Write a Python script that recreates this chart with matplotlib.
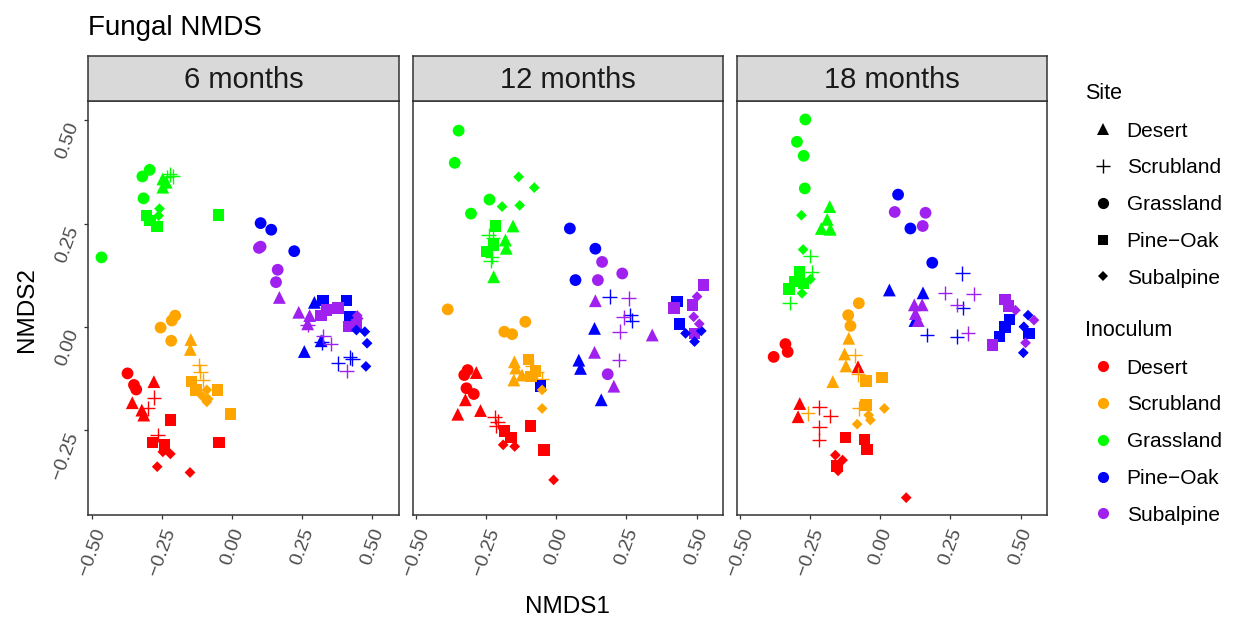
import matplotlib
matplotlib.use('Agg')
import matplotlib.pyplot as plt
from matplotlib.lines import Line2D
import pandas as pd

plt.rcParams['font.family'] = ['Liberation Sans', 'DejaVu Sans']

# Códigos: De=Desert, Sc=Scrubland, Gr=Grassland, PO=Pine-Oak, Su=Subalpine
# (inoculum, site, NMDS1, NMDS2)
six_months = [
    ("Gr", "Gr", -0.294, 0.380), ("Gr", "Gr", -0.320, 0.364), ("Gr", "Gr", -0.316, 0.311), ("Gr", "Gr", -0.466, 0.168),
    ("Gr", "De", -0.247, 0.358), ("Gr", "De", -0.247, 0.338), ("Gr", "De", -0.235, 0.350),
    ("Gr", "Sc", -0.223, 0.369), ("Gr", "Sc", -0.212, 0.364), ("Gr", "Sc", -0.232, 0.362),
    ("Gr", "Su", -0.259, 0.286), ("Gr", "Su", -0.262, 0.269),
    ("Gr", "PO", -0.306, 0.269), ("Gr", "PO", -0.292, 0.257), ("Gr", "PO", -0.267, 0.243), ("Gr", "PO", -0.048, 0.271),
    ("PO", "Gr", 0.102, 0.251), ("PO", "Gr", 0.140, 0.235), ("PO", "Gr", 0.222, 0.183),
    ("PO", "De", 0.294, 0.059), ("PO", "De", 0.318, -0.034), ("PO", "De", 0.258, -0.060),
    ("PO", "PO", 0.324, 0.063), ("PO", "PO", 0.409, 0.063), ("PO", "PO", 0.421, 0.024),
    ("PO", "Su", 0.444, -0.008), ("PO", "Su", 0.474, -0.012), ("PO", "Su", 0.482, -0.040), ("PO", "Su", 0.478, -0.096),
    ("PO", "Sc", 0.320, -0.038), ("PO", "Sc", 0.379, -0.089), ("PO", "Sc", 0.421, -0.074), ("PO", "Sc", 0.430, -0.078),
    ("Su", "Gr", 0.102, 0.194), ("Su", "Gr", 0.096, 0.191), ("Su", "Gr", 0.163, 0.138), ("Su", "Gr", 0.157, 0.108),
    ("Su", "De", 0.169, 0.071), ("Su", "De", 0.238, 0.035), ("Su", "De", 0.277, 0.027), ("Su", "De", 0.270, 0.007),
    ("Su", "PO", 0.338, 0.041), ("Su", "PO", 0.379, 0.045), ("Su", "PO", 0.317, 0.027), ("Su", "PO", 0.415, 0.000),
    ("Su", "PO", 0.444, 0.006),
    ("Su", "Su", 0.447, 0.027), ("Su", "Su", 0.450, 0.020),
    ("Su", "Sc", 0.270, 0.005), ("Su", "Sc", 0.326, -0.022), ("Su", "Sc", 0.352, -0.042), ("Su", "Sc", 0.409, -0.107),
    ("Sc", "Gr", -0.255, -0.002), ("Sc", "Gr", -0.215, 0.015), ("Sc", "Gr", -0.203, 0.027), ("Sc", "Gr", -0.217, -0.034),
    ("Sc", "De", -0.147, -0.031), ("Sc", "De", -0.149, -0.055),
    ("Sc", "Sc", -0.117, -0.093), ("Sc", "Sc", -0.113, -0.109), ("Sc", "Sc", -0.105, -0.129),
    ("Sc", "PO", -0.144, -0.133), ("Sc", "PO", -0.129, -0.153), ("Sc", "PO", -0.052, -0.153), ("Sc", "PO", -0.005, -0.211),
    ("Sc", "Su", -0.090, -0.153), ("Sc", "Su", -0.105, -0.169), ("Sc", "Su", -0.090, -0.182), ("Sc", "Su", -0.085, -0.175),
    ("De", "Gr", -0.373, -0.113), ("De", "Gr", -0.350, -0.141), ("De", "Gr", -0.342, -0.152),
    ("De", "De", -0.279, -0.133), ("De", "De", -0.356, -0.184), ("De", "De", -0.322, -0.202), ("De", "De", -0.315, -0.214),
    ("De", "Sc", -0.279, -0.172), ("De", "Sc", -0.300, -0.198), ("De", "Sc", -0.265, -0.262),
    ("De", "PO", -0.220, -0.226), ("De", "PO", -0.283, -0.280), ("De", "PO", -0.241, -0.286), ("De", "PO", -0.046, -0.280),
    ("De", "Su", -0.247, -0.303), ("De", "Su", -0.220, -0.308), ("De", "Su", -0.267, -0.339), ("De", "Su", -0.150, -0.353),
]

twelve_months = [
    ("Gr", "Gr", -0.349, 0.475), ("Gr", "Gr", -0.363, 0.397), ("Gr", "Gr", -0.239, 0.308), ("Gr", "Gr", -0.305, 0.274),
    ("Gr", "Su", -0.135, 0.363), ("Gr", "Su", -0.079, 0.337), ("Gr", "Su", -0.194, 0.291), ("Gr", "Su", -0.131, 0.294),
    ("Gr", "PO", -0.217, 0.244), ("Gr", "PO", -0.224, 0.198), ("Gr", "PO", -0.250, 0.182),
    ("Gr", "De", -0.155, 0.244), ("Gr", "De", -0.182, 0.210), ("Gr", "De", -0.179, 0.190), ("Gr", "De", -0.224, 0.121),
    ("Gr", "Sc", -0.242, 0.222), ("Gr", "Sc", -0.226, 0.215), ("Gr", "Sc", -0.230, 0.170), ("Gr", "Sc", -0.235, 0.160),
    ("PO", "Gr", 0.048, 0.238), ("PO", "Gr", 0.139, 0.189), ("PO", "Gr", 0.068, 0.113),
    ("PO", "Sc", 0.190, 0.073), ("PO", "Sc", 0.264, 0.028), ("PO", "Sc", 0.270, 0.015),
    ("PO", "PO", 0.431, 0.061), ("PO", "PO", 0.440, 0.007), ("PO", "PO", -0.057, -0.144),
    ("PO", "De", 0.136, -0.004), ("PO", "De", 0.080, -0.081), ("PO", "De", 0.086, -0.101), ("PO", "De", 0.160, -0.177),
    ("PO", "Su", 0.461, -0.016), ("PO", "Su", 0.517, -0.010), ("PO", "Su", 0.493, -0.036),
    ("Su", "Gr", 0.163, 0.157), ("Su", "Gr", 0.235, 0.129), ("Su", "Gr", 0.148, 0.113), ("Su", "Gr", 0.183, -0.115),
    ("Su", "De", 0.139, 0.063), ("Su", "De", 0.136, -0.062), ("Su", "De", 0.205, -0.144), ("Su", "De", 0.342, -0.020),
    ("Su", "Sc", 0.258, 0.069), ("Su", "Sc", 0.240, 0.023), ("Su", "Sc", 0.226, -0.012), ("Su", "Sc", 0.223, -0.081),
    ("Su", "PO", 0.524, 0.101), ("Su", "PO", 0.485, 0.053), ("Su", "PO", 0.419, 0.045), ("Su", "PO", 0.493, -0.016),
    ("Su", "Su", 0.502, 0.073), ("Su", "Su", 0.490, 0.024), ("Su", "Su", 0.510, 0.007),
    ("Sc", "Gr", -0.388, 0.042), ("Sc", "Gr", -0.111, 0.012), ("Sc", "Gr", -0.186, -0.012), ("Sc", "Gr", -0.158, -0.018),
    ("Sc", "De", -0.150, -0.085), ("Sc", "De", -0.152, -0.129), ("Sc", "De", -0.123, -0.117), ("Sc", "De", -0.145, -0.100),
    ("Sc", "PO", -0.099, -0.079), ("Sc", "PO", -0.075, -0.107), ("Sc", "PO", -0.090, -0.121),
    ("Sc", "Sc", -0.070, -0.110), ("Sc", "Sc", -0.051, -0.127), ("Sc", "Sc", -0.085, -0.095),
    ("Sc", "Su", -0.051, -0.153), ("Sc", "Su", -0.051, -0.198),
    ("De", "Gr", -0.317, -0.105), ("De", "Gr", -0.329, -0.117), ("De", "Gr", -0.321, -0.149), ("De", "Gr", -0.295, -0.163),
    ("De", "De", -0.286, -0.111), ("De", "De", -0.325, -0.177), ("De", "De", -0.352, -0.212), ("De", "De", -0.271, -0.203),
    ("De", "Sc", -0.221, -0.219), ("De", "Sc", -0.210, -0.230), ("De", "Sc", -0.215, -0.240),
    ("De", "PO", -0.186, -0.252), ("De", "PO", -0.162, -0.268), ("De", "PO", -0.093, -0.240), ("De", "PO", -0.045, -0.299),
    ("De", "Su", -0.190, -0.286), ("De", "Su", -0.149, -0.290), ("De", "Su", -0.010, -0.371),
]

eighteen_months = [
    ("Gr", "Gr", -0.268, 0.502), ("Gr", "Gr", -0.298, 0.448), ("Gr", "Gr", -0.274, 0.414), ("Gr", "Gr", -0.270, 0.335),
    ("Gr", "De", -0.181, 0.291), ("Gr", "De", -0.190, 0.260), ("Gr", "De", -0.211, 0.238), ("Gr", "De", -0.179, 0.236),
    ("Gr", "Su", -0.282, 0.270), ("Gr", "Su", -0.276, 0.187), ("Gr", "Su", -0.250, 0.115), ("Gr", "Su", -0.280, 0.081),
    ("Gr", "Sc", -0.250, 0.171), ("Gr", "Sc", -0.244, 0.133), ("Gr", "Sc", -0.324, 0.057),
    ("Gr", "PO", -0.288, 0.133), ("Gr", "PO", -0.306, 0.109), ("Gr", "PO", -0.274, 0.105), ("Gr", "PO", -0.327, 0.091),
    ("PO", "Gr", 0.063, 0.320), ("PO", "Gr", 0.107, 0.238), ("PO", "Gr", 0.185, 0.155),
    ("PO", "De", 0.032, 0.089), ("PO", "De", 0.152, 0.082), ("PO", "De", 0.123, 0.015),
    ("PO", "Sc", 0.292, 0.129), ("PO", "Sc", 0.167, -0.020), ("PO", "Sc", 0.274, -0.024), ("PO", "Sc", 0.295, 0.045),
    ("PO", "PO", 0.461, 0.018), ("PO", "PO", 0.444, -0.001), ("PO", "PO", 0.426, -0.024), ("PO", "PO", 0.530, -0.016),
    ("PO", "Su", 0.527, 0.028), ("PO", "Su", 0.512, 0.000), ("PO", "Su", 0.510, -0.063),
    ("Su", "Gr", 0.051, 0.278), ("Su", "Gr", 0.161, 0.276), ("Su", "Gr", 0.151, 0.244),
    ("Su", "De", 0.121, 0.053), ("Su", "De", 0.149, 0.053), ("Su", "De", 0.125, 0.032), ("Su", "De", 0.135, 0.015),
    ("Su", "Sc", 0.230, 0.082), ("Su", "Sc", 0.333, 0.079), ("Su", "Sc", 0.313, -0.016), ("Su", "Sc", 0.274, 0.053),
    ("Su", "PO", 0.444, 0.066), ("Su", "PO", 0.458, 0.050), ("Su", "PO", 0.401, -0.044),
    ("Su", "Su", 0.482, 0.040), ("Su", "Su", 0.548, 0.016), ("Su", "Su", 0.518, -0.039),
    ("Sc", "Gr", -0.077, 0.057), ("Sc", "Gr", -0.115, 0.028), ("Sc", "Gr", -0.107, 0.002),
    ("Sc", "De", -0.113, -0.028), ("Sc", "De", -0.128, -0.066), ("Sc", "De", -0.123, -0.095), ("Sc", "De", -0.170, -0.133),
    ("Sc", "Sc", -0.092, -0.069), ("Sc", "Sc", -0.080, -0.115), ("Sc", "Sc", -0.258, -0.210), ("Sc", "Sc", -0.075, -0.198),
    ("Sc", "PO", -0.051, -0.131), ("Sc", "PO", 0.006, -0.123), ("Sc", "PO", -0.051, -0.190),
    ("Sc", "Su", 0.014, -0.198), ("Sc", "Su", -0.042, -0.214), ("Sc", "Su", -0.036, -0.226), ("Sc", "Su", -0.083, -0.236),
    ("De", "Gr", -0.339, -0.042), ("De", "Gr", -0.331, -0.061), ("De", "Gr", -0.381, -0.073),
    ("De", "De", -0.080, -0.097), ("De", "De", -0.288, -0.186), ("De", "De", -0.294, -0.218),
    ("De", "Sc", -0.218, -0.195), ("De", "Sc", -0.179, -0.216), ("De", "Sc", -0.218, -0.244), ("De", "Sc", -0.220, -0.274),
    ("De", "PO", -0.125, -0.268), ("De", "PO", -0.056, -0.273), ("De", "PO", -0.048, -0.297), ("De", "PO", -0.155, -0.337),
    ("De", "Su", -0.161, -0.311), ("De", "Su", -0.135, -0.323), ("De", "Su", -0.151, -0.349), ("De", "Su", 0.092, -0.414),
]

panels = ["6 months", "12 months", "18 months"]
panel_data = [six_months, twelve_months, eighteen_months]

codes = ["De", "Sc", "Gr", "PO", "Su"]
names = ["Desert", "Scrubland", "Grassland", "Pine\u2212Oak", "Subalpine"]
colors = ["#FF0000", "#FFA500", "#00FF00", "#0000FF", "#A020F0"]
markers = ["^", "+", "o", "s", "D"]
sizes = [85, 110, 72, 68, 30]

xticks = [-0.5, -0.25, 0.0, 0.25, 0.5]
yticks = [-0.25, 0.0, 0.25, 0.5]

def fmt(v):
    return f"{v:.2f}".replace("-", "\u2212")

color_of = dict(zip(codes, colors))
W, H = 1235, 617
fig = plt.figure(figsize=(W / 100, H / 100), dpi=100)

lefts = [88.3, 412.7, 736.7]
pw = 310.7
top, bottom, strip_top = 100.5, 515, 56
dark = "#333333"

for i, (label, rows) in enumerate(zip(panels, panel_data)):
    df = pd.DataFrame(rows, columns=["inoc", "site", "x", "y"])
    ax = fig.add_axes([lefts[i] / W, 1 - bottom / H, pw / W, (bottom - top) / H])
    for code, mk, sz in zip(codes, markers, sizes):
        sub = df[df["site"] == code]
        c = [color_of[k] for k in sub["inoc"]]
        if mk == "+":
            ax.scatter(sub["x"], sub["y"], c=c, marker=mk, s=sz, linewidths=1.0)
        else:
            ax.scatter(sub["x"], sub["y"], c=c, marker=mk, s=sz, linewidths=0)
    ax.set_xlim(-0.513, 0.596)
    ax.set_ylim(-0.456, 0.548)
    ax.set_xticks(xticks)
    ax.set_xticklabels([fmt(v) for v in xticks], rotation=70, ha="center", va="top",
                       fontsize=14, color="#4D4D4D")
    ax.set_yticks(yticks)
    if i == 0:
        ax.set_yticklabels([fmt(v) for v in yticks], rotation=70, ha="right", va="top",
                           fontsize=14, color="#4D4D4D")
        ax.tick_params(axis="y", length=3, width=0.9, color=dark, pad=1.5)
    else:
        ax.tick_params(axis="y", left=False, labelleft=False)
    ax.tick_params(axis="x", length=3, width=0.9, color=dark, pad=5)
    for sp in ax.spines.values():
        sp.set_color(dark)
        sp.set_linewidth(1.1)

    st = fig.add_axes([lefts[i] / W, 1 - top / H, pw / W, (top - strip_top) / H])
    st.set_facecolor("#D9D9D9")
    st.set_xticks([])
    st.set_yticks([])
    for sp in st.spines.values():
        sp.set_color(dark)
        sp.set_linewidth(1.1)
    st.text(0.5, 0.47, label, ha="center", va="center", fontsize=21, color="#1A1A1A",
            transform=st.transAxes)

fig.text(88 / W, 1 - 35 / H, "Fungal NMDS", fontsize=20, ha="left", va="baseline")
fig.text(567 / W, 1 - 613 / H, "NMDS1", fontsize=17.5, ha="center", va="baseline")
fig.text(27 / W, 1 - 310 / H, "NMDS2", fontsize=17.5, ha="center", va="center", rotation=90)

site_handles = [Line2D([], [], linestyle="none", marker=m, color="black",
                       markersize=(s ** 0.5) * 0.95, markeredgewidth=1.0 if m == "+" else 0)
                for m, s in zip(markers, sizes)]
inoc_handles = [Line2D([], [], linestyle="none", marker="o", color=c, markersize=8,
                       markeredgewidth=0) for c in colors]

common = dict(frameon=False, loc="upper left", fontsize=15, title_fontsize=15.5,
              labelspacing=0.85, handlelength=1.7, handletextpad=0.3, borderpad=0,
              borderaxespad=0, alignment="left")
leg1 = fig.legend(site_handles, names, title="Site", bbox_to_anchor=(1085 / W, 1 - 83 / H), **common)
leg2 = fig.legend(inoc_handles, names, title="Inoculum", bbox_to_anchor=(1085 / W, 1 - 320 / H), **common)

fig.savefig("out.png", dpi=100)
